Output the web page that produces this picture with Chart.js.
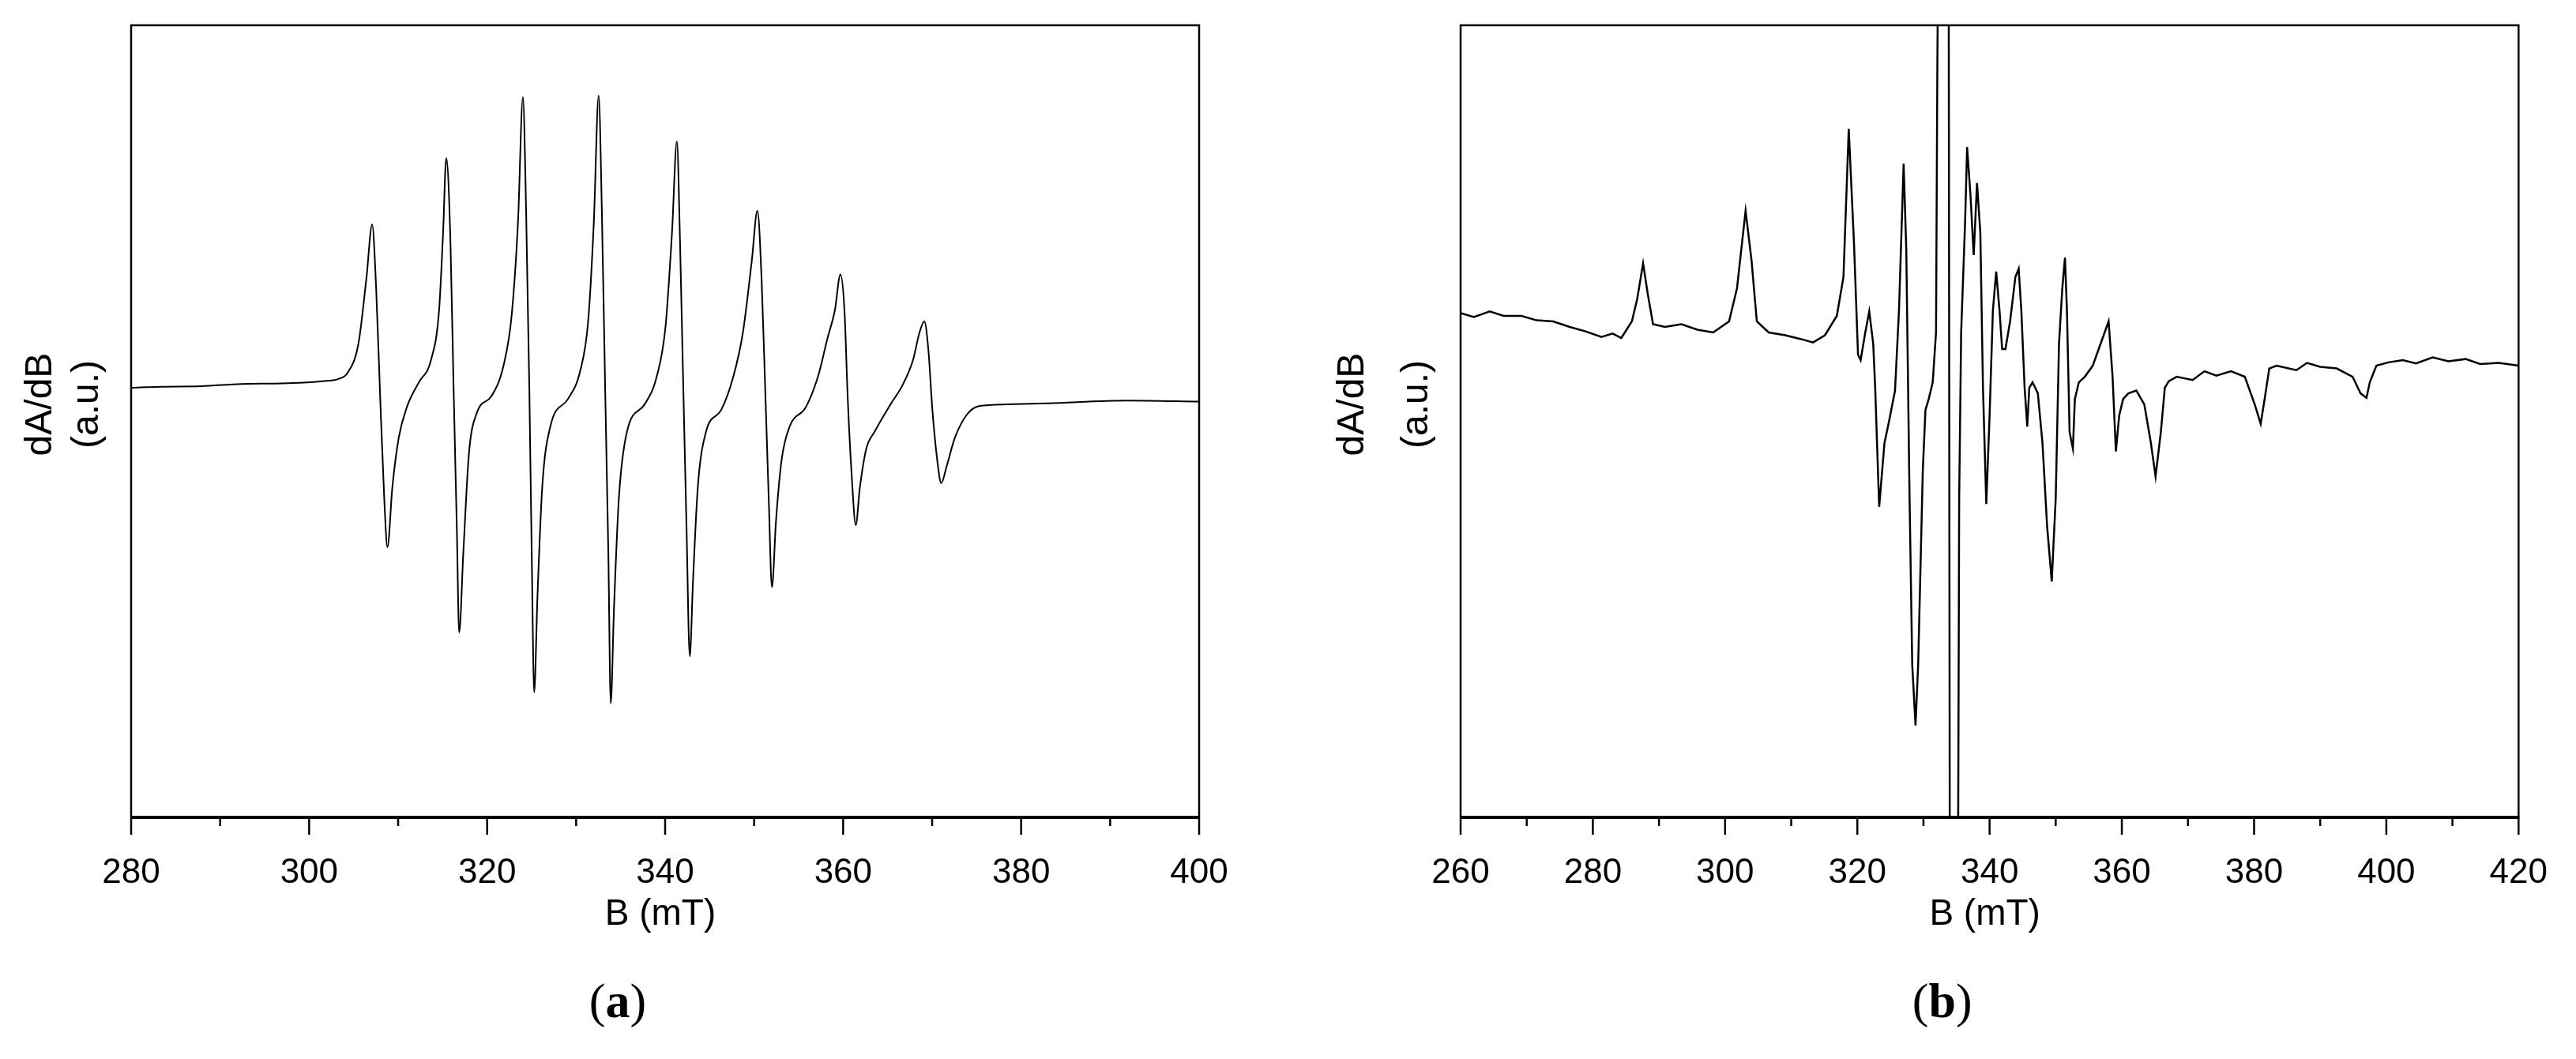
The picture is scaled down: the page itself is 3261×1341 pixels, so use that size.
<!DOCTYPE html>
<html><head><meta charset="utf-8">
<script src="https://cdn.jsdelivr.net/npm/chart.js@4"></script>
<style>
html,body{margin:0;padding:0;background:#fff;width:3261px;height:1341px;overflow:hidden}
.p{position:absolute;top:0;height:1341px;width:1600px}
</style></head><body>
<div class="p" style="left:0"><canvas id="ca" width="1600" height="1341"></canvas></div>
<div class="p" style="left:1661px"><canvas id="cb" width="1600" height="1341"></canvas></div>
<script>
// Panel (a): field (mT) and dA/dB (a.u.)
const fieldA = [280.0,283.35,287.88,292.41,296.94,301.47,303.28,
304.36,305.54,306.45,307.08,307.53,307.99,308.44,308.80,309.35,310.07,310.98,312.33,
313.69,314.60,315.05,315.41,315.87,316.23,316.59,316.86,317.32,317.95,318.85,320.49,
321.84,322.75,323.47,324.02,324.38,324.74,325.01,325.29,325.65,326.19,327.10,329.09,
330.45,331.35,331.99,332.53,332.89,333.26,333.62,333.89,334.25,334.80,335.70,337.69,
339.05,340.04,340.77,341.32,341.68,342.04,342.40,342.77,343.13,343.67,344.58,346.30,
347.66,348.74,349.74,350.37,350.83,351.28,351.64,352.00,352.46,353.09,353.99,355.81,
357.17,358.25,359.07,359.70,360.15,360.52,360.97,361.42,361.88,362.60,363.51,365.32,
366.68,367.85,368.58,369.12,369.57,370.03,370.57,371.02,371.66,372.56,373.92,375.28,
378.45,382.98,392.03,400.0];
const signalA = [40,42,43,47,48,52,56,
68,120,240,335,220,20,-160,-248,-140,-50,5,50,
90,180,320,455,310,40,-210,-402,-260,-80,-5,25,
80,170,340,565,360,40,-260,-510,-340,-140,-30,20,
70,160,340,568,360,40,-260,-530,-360,-160,-40,10,
60,150,320,485,300,40,-210,-445,-310,-140,-40,0,
60,140,270,360,240,20,-160,-320,-200,-90,-30,5,
60,130,180,245,180,20,-120,-208,-140,-70,-40,10,
45,90,140,160,110,0,-90,-132,-100,-50,-8,7,
10,12,17,15];
// Panel (b)
const fieldB = [260.0,262.0,264.4,266.5,269.2,271.5,274.0,276.5,278.9,281.3,283.0,284.3,285.9,
286.7,287.6,288.3,289.1,290.9,293.4,295.8,298.2,300.6,
301.8,303.1,304.0,304.8,306.6,309.1,311.5,313.3,315.1,316.9,
317.9,318.7,319.5,320.1,320.5,321.2,321.8,322.4,322.7,323.3,324.1,324.8,325.7,
326.3,327.0,327.4,327.9,328.3,328.8,329.2,329.9,330.3,330.8,331.4,331.9,332.1,
332.3,333.8,334.0,335.2,335.4,
335.7,336.3,336.6,337.1,337.6,338.1,338.6,339.0,339.5,340.0,340.5,341.0,341.5,341.9,342.4,343.1,343.9,344.4,344.8,345.3,345.7,346.0,346.5,347.3,348.0,348.7,349.4,350.0,350.5,351.0,351.4,351.7,352.1,352.6,352.9,353.5,354.4,355.6,356.8,358.0,358.6,359.1,359.6,360.2,361.0,362.2,363.4,364.4,365.1,365.9,366.5,367.1,368.3,370.7,372.5,374.3,376.5,378.6,380.1,381.0,381.6,382.3,383.4,386.4,388.0,390.0,392.5,394.9,396.1,397.0,397.5,398.5,400.3,402.5,404.5,407.0,409.4,412.0,414.2,417.0,420.0];
const signalB = [175,168,178,170,170,162,160,150,142,132,138,130,160,
200,265,210,155,150,155,145,140,160,
220,360,270,160,140,135,128,122,135,170,
240,508,300,100,90,140,178,120,40,-175,-60,-20,35,
180,445,290,-160,-460,-570,-460,-110,0,20,50,140,620,
950,950,-950,-950,-160,
140,340,475,390,280,410,320,40,-170,-10,180,250,180,110,110,160,240,255,180,40,-30,40,50,30,-60,-210,-310,-160,120,220,275,180,-40,-70,20,50,60,80,120,160,60,-75,-10,20,30,35,10,-60,-120,-40,40,52,60,54,70,62,70,60,10,-25,20,75,80,72,85,78,75,60,30,22,50,80,86,90,84,95,88,92,83,85,80];

function makeChart(id, xs, ys, xmin, xmax, left, right, caption, lw, interp){
  const pts = xs.map((x,i)=>({x:x,y:ys[i]}));
  const frame = {
    id:'frame',
    afterDraw(c){
      const a=c.chartArea, ctx=c.ctx, sx=c.scales.x;
      ctx.save();
      ctx.strokeStyle='#000'; ctx.lineWidth=2.5;
      ctx.beginPath();
      ctx.moveTo(a.left,a.bottom); ctx.lineTo(a.left,a.top); ctx.lineTo(a.right,a.top); ctx.lineTo(a.right,a.bottom);
      ctx.stroke();
      ctx.lineWidth=4;
      ctx.beginPath(); ctx.moveTo(a.left-1,a.bottom); ctx.lineTo(a.right+1,a.bottom); ctx.stroke();
      ctx.lineWidth=2.5;
      for(let v=xmin; v<=xmax; v+=10){
        const px=sx.getPixelForValue(v);
        const len = ((v-xmin)%20===0)?22:11;
        ctx.beginPath(); ctx.moveTo(px,a.bottom); ctx.lineTo(px,a.bottom+len); ctx.stroke();
      }
      ctx.fillStyle='#000';
      ctx.textAlign='center'; ctx.textBaseline='middle';
      const cx=(a.left+a.right)/2;
      ctx.font='46px "Liberation Sans", Arial, sans-serif';
      ctx.fillText('B (mT)', cx-6, 1158);
      ctx.font='bold 62px "Liberation Serif", "Times New Roman", serif';
      const w1=ctx.measureText(caption).width;
      ctx.font='62px "Liberation Serif", "Times New Roman", serif';
      const wp=ctx.measureText('(').width;
      const tot=w1+2*wp, x0=cx-60-tot/2;
      ctx.textAlign='left';
      ctx.fillText('(',x0,1272);
      ctx.font='bold 62px "Liberation Serif", "Times New Roman", serif';
      ctx.fillText(caption,x0+wp,1272);
      ctx.font='62px "Liberation Serif", "Times New Roman", serif';
      ctx.fillText(')',x0+wp+w1,1272);
      ctx.save();
      ctx.translate(52, 512); ctx.rotate(-Math.PI/2);
      ctx.textAlign='center';
      ctx.font='48px "Liberation Sans", Arial, sans-serif';
      ctx.fillText('dA/dB',0,0);
      ctx.restore();
      ctx.save();
      ctx.translate(left-55, 512); ctx.rotate(-Math.PI/2);
      ctx.textAlign='center';
      ctx.font='48px "Liberation Sans", Arial, sans-serif';
      ctx.fillText('(a.u.)',0,0);
      ctx.restore();
      ctx.restore();
    }
  };
  return new Chart(document.getElementById(id),{
    type:'line',
    data:{datasets:[{data:pts,borderColor:'#000',borderWidth:lw,pointRadius:0,
      cubicInterpolationMode:interp,fill:false}]},
    options:{
      responsive:false,animation:false,
      layout:{padding:{top:32,right:1600-right,left:0,bottom:0}},
      plugins:{legend:{display:false},tooltip:{enabled:false}},
      scales:{
        x:{type:'linear',min:xmin,max:xmax,
           ticks:{stepSize:10,autoSkip:false,maxRotation:0,color:'#000',padding:36,
             font:{size:44,family:'"Liberation Sans", Arial, sans-serif'},
             callback:v=>((v-xmin)%20===0)?String(v):''},
           grid:{display:false},border:{display:false},
           afterFit(s){s.height=1341-1035;}},
        y:{min:-736,max:695,ticks:{display:false},grid:{display:false},border:{display:false},
           afterFit(s){s.width=left;}}
      }
    },
    plugins:[frame]
  });
}
makeChart('ca', fieldA, signalA, 280, 400, 166, 1518, 'a', 2, 'monotone');
makeChart('cb', fieldB, signalB, 260, 420, 188, 1538, 'b', 2.5, 'default');
</script></body></html>
